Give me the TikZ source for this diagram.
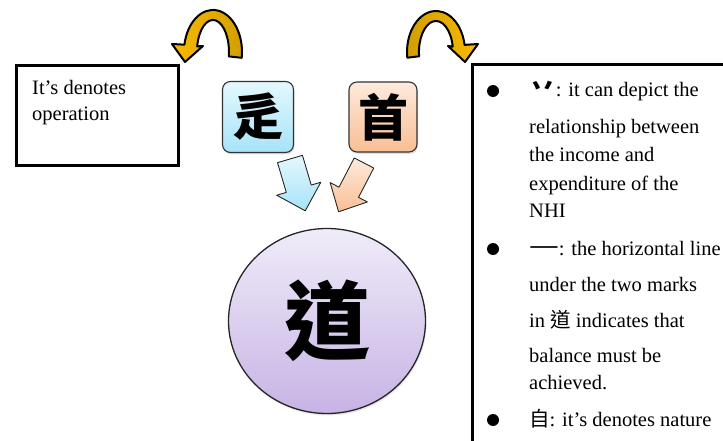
\documentclass[tikz,border=0pt]{standalone}
\usepackage{fontspec}
\setmainfont{Liberation Serif}
\newfontfamily\cjk{Noto Sans CJK TC}
\usetikzlibrary{shapes.geometric,shadows}
\definecolor{goldlight}{HTML}{F7BA00}
\definecolor{golddark}{HTML}{D29E00}
\definecolor{bluetop}{HTML}{E4F8FE}
\definecolor{bluebot}{HTML}{A6E3F8}
\definecolor{oratop}{HTML}{FEEADC}
\definecolor{orabot}{HTML}{F9BE94}
\definecolor{viotop}{HTML}{F0ECF9}
\definecolor{viobot}{HTML}{C7B3E5}
\begin{document}
\begin{tikzpicture}[x=1pt,y=-1pt,
  txt/.style={anchor=base west, inner sep=0pt, font=\fontsize{20.5}{24}\selectfont},
  bul/.style={circle, fill=black, inner sep=0pt, minimum size=12pt},
  framebox/.style={draw=black, line width=3pt, inner sep=0pt},
  sqbox/.style={draw=black!80, line width=1.1pt, rounded corners=8pt, inner sep=0pt,
    drop shadow={opacity=0.25, shadow xshift=1pt, shadow yshift=-2pt},
    font=\fontsize{50}{50}\selectfont\cjk\bfseries},
  blockarrow/.style={draw=black!85, line width=0.9pt, line join=round},
  curvarrow/.style={draw=black, line width=2pt, line join=round}
]
\useasboundingbox (0,0) rectangle (723,441);
\clip (0,0) rectangle (723,441);

% left text box
\node[framebox, minimum width=162pt, minimum height=100pt] (opbox) at (97,116) {};
\node[txt] (op1) at (32,95) {It’s denotes};
\node[txt] (op2) at (32,121) {operation};

% right text box
\node[framebox, anchor=north west, minimum width=300pt, minimum height=420pt] (expl) at (471,63) {};

% curved arrows
\path[curvarrow, left color=goldlight, right color=golddark]
  (241.7,57.8) arc[start angle=8, end angle=-170, x radius=29, y radius=42]
  -- (172,44) -- (185,62) -- (203,46) -- (197.2,46.4)
  arc[start angle=-170, end angle=8, x radius=16, y radius=32] -- cycle;
\path[curvarrow, left color=golddark, right color=goldlight]
  (407.3,57.7) arc[start angle=172, end angle=350, x radius=29, y radius=41]
  -- (478,44) -- (465,62) -- (448,46) -- (452.7,46.6)
  arc[start angle=350, end angle=172, x radius=17, y radius=31] -- cycle;

% character boxes
\node[sqbox, top color=bluetop, bottom color=bluebot, minimum width=71pt, minimum height=71pt] (chuo) at (258,117) {辵};
\node[sqbox, top color=oratop, bottom color=orabot, minimum width=68pt, minimum height=70pt] (shou) at (383,117) {首};

% central circle
\node[ellipse, draw=black!85, line width=1.3pt, minimum width=197pt, minimum height=185pt,
  top color=viotop, bottom color=viobot, inner sep=0pt,
  drop shadow={opacity=0.2, shadow xshift=1pt, shadow yshift=-2pt},
  font=\fontsize{86}{86}\selectfont\cjk\bfseries] (dao) at (327,321) {道};

% block arrows
\coordinate (ba) at (290,159);
\coordinate (oa) at (364,163);
\begin{scope}[shift={(ba)}, rotate=16.4]
  \path[blockarrow, top color=bluetop, bottom color=bluebot]
    (-13,0) -- (13,0) -- (13,31) -- (23,31) -- (0,54) -- (-23,31) -- (-13,31) -- cycle;
\end{scope}
\begin{scope}[shift={(oa)}, rotate=-27.5]
  \path[blockarrow, top color=oratop, bottom color=orabot]
    (-11,0) -- (11,0) -- (11,33) -- (21,33) -- (0,55) -- (-21,33) -- (-11,33) -- cycle;
\end{scope}

% bullets
\node[bul] (b1) at (493,91) {};
\node[bul] (b2) at (493,249) {};
\node[bul] (b3) at (493,420) {};

% explanation text
\node[txt] (l1) at (529,97) {\raisebox{1pt}{\scalebox{1.3}[1.2]{\cjk\bfseries 丷}}: it can depict the};
\node[txt] (l2) at (529,134) {relationship between};
\node[txt] (l3) at (529,162) {the income and};
\node[txt] (l4) at (529,190) {expenditure of the};
\node[txt] (l5) at (529,217) {NHI};
\node[txt] (l6) at (529,255) {\scalebox{1.45}[1]{\cjk 一}: the horizontal line};
\node[txt] (l7) at (529,291) {under the two marks};
\node[txt] (l8) at (529,327) {in {\cjk 道} indicates that};
\node[txt] (l9) at (529,362) {balance must be};
\node[txt] (l10) at (529,389) {achieved.};
\node[txt] (l11) at (529,426) {{\cjk 自}: it’s denotes nature};
\end{tikzpicture}
\end{document}
